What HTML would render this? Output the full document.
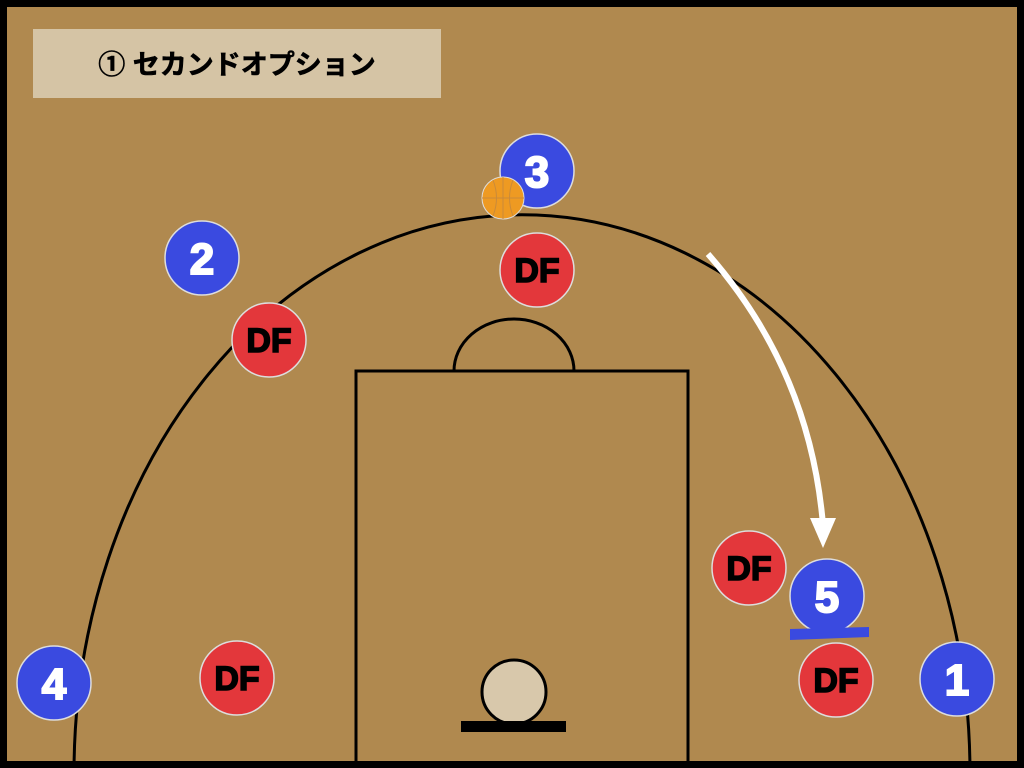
<!DOCTYPE html>
<html><head><meta charset="utf-8"><style>
html,body{margin:0;padding:0;overflow:hidden;width:1024px;height:768px;background:#000;}
svg{display:block}
</style></head><body>
<svg width="1024" height="768" viewBox="0 0 1024 768" xmlns="http://www.w3.org/2000/svg">
<rect x="0" y="0" width="1024" height="768" fill="#000"/>
<rect x="7" y="7" width="1010" height="754" fill="#B0894F"/>
<g fill="none" stroke="#000" stroke-width="3">
<path d="M74.1 761 A448 558 0 0 1 969.9 761"/>
<path d="M356 761 V371 H688 V761"/>
<path d="M454 371 A60 52 0 0 1 574 371"/>
</g>
<circle cx="514" cy="692" r="32" fill="#d8c8ab" stroke="#000" stroke-width="3"/>
<rect x="461" y="721" width="105" height="11" fill="#000"/>
<rect x="33" y="29" width="408" height="69" fill="#d5c4a5"/>
<text x="237" y="74" text-anchor="middle" font-family="Liberation Sans, Noto Sans CJK JP, sans-serif" font-weight="bold" font-size="27" fill="#000" stroke="#000" stroke-width="0.6">① セカンドオプション</text>
<path d="M708 254 Q810 370 823 525" fill="none" stroke="#fff" stroke-width="6"/>
<polygon points="810,518 836,518 823,548" fill="#fff"/>
<g font-family="Liberation Sans, sans-serif" font-weight="bold" text-anchor="middle">
<g fill="#3a4ae0" stroke="#ddd" stroke-width="1.5">
<circle cx="537" cy="171" r="37"/><circle cx="202" cy="258" r="37"/><circle cx="54" cy="683" r="37"/><circle cx="957" cy="679" r="37"/><circle cx="827" cy="596" r="37"/>
</g>
<g fill="#fff" stroke="#fff" stroke-width="2" font-size="44">
<text x="537" y="187">3</text><text x="202" y="274">2</text><text x="54" y="699">4</text><text x="957" y="695">1</text><text x="827" y="612">5</text>
</g>
<g fill="#e3373b" stroke="#ddd" stroke-width="1.5">
<circle cx="537" cy="270" r="37"/><circle cx="269" cy="340" r="37"/><circle cx="237" cy="678" r="37"/><circle cx="749" cy="568" r="37"/><circle cx="836" cy="680" r="37"/>
</g>
<g fill="#000" stroke="#000" stroke-width="1.5" font-size="34">
<text x="537" y="282">DF</text><text x="269" y="352">DF</text><text x="237" y="690">DF</text><text x="749" y="580">DF</text><text x="836" y="692">DF</text>
</g>
</g>
<polygon points="790,629 869,627 869,637 790,640" fill="#3a4ae0"/>
<g>
<circle cx="503" cy="198" r="21" fill="#EE9A22" stroke="#ddd" stroke-width="1"/>
<path d="M482 198 H524 M503 177 V219 M493 180 Q500 198 493 216 M513 180 Q506 198 513 216" fill="none" stroke="#c98a3a" stroke-width="1"/>
</g>
</svg>
</body></html>
